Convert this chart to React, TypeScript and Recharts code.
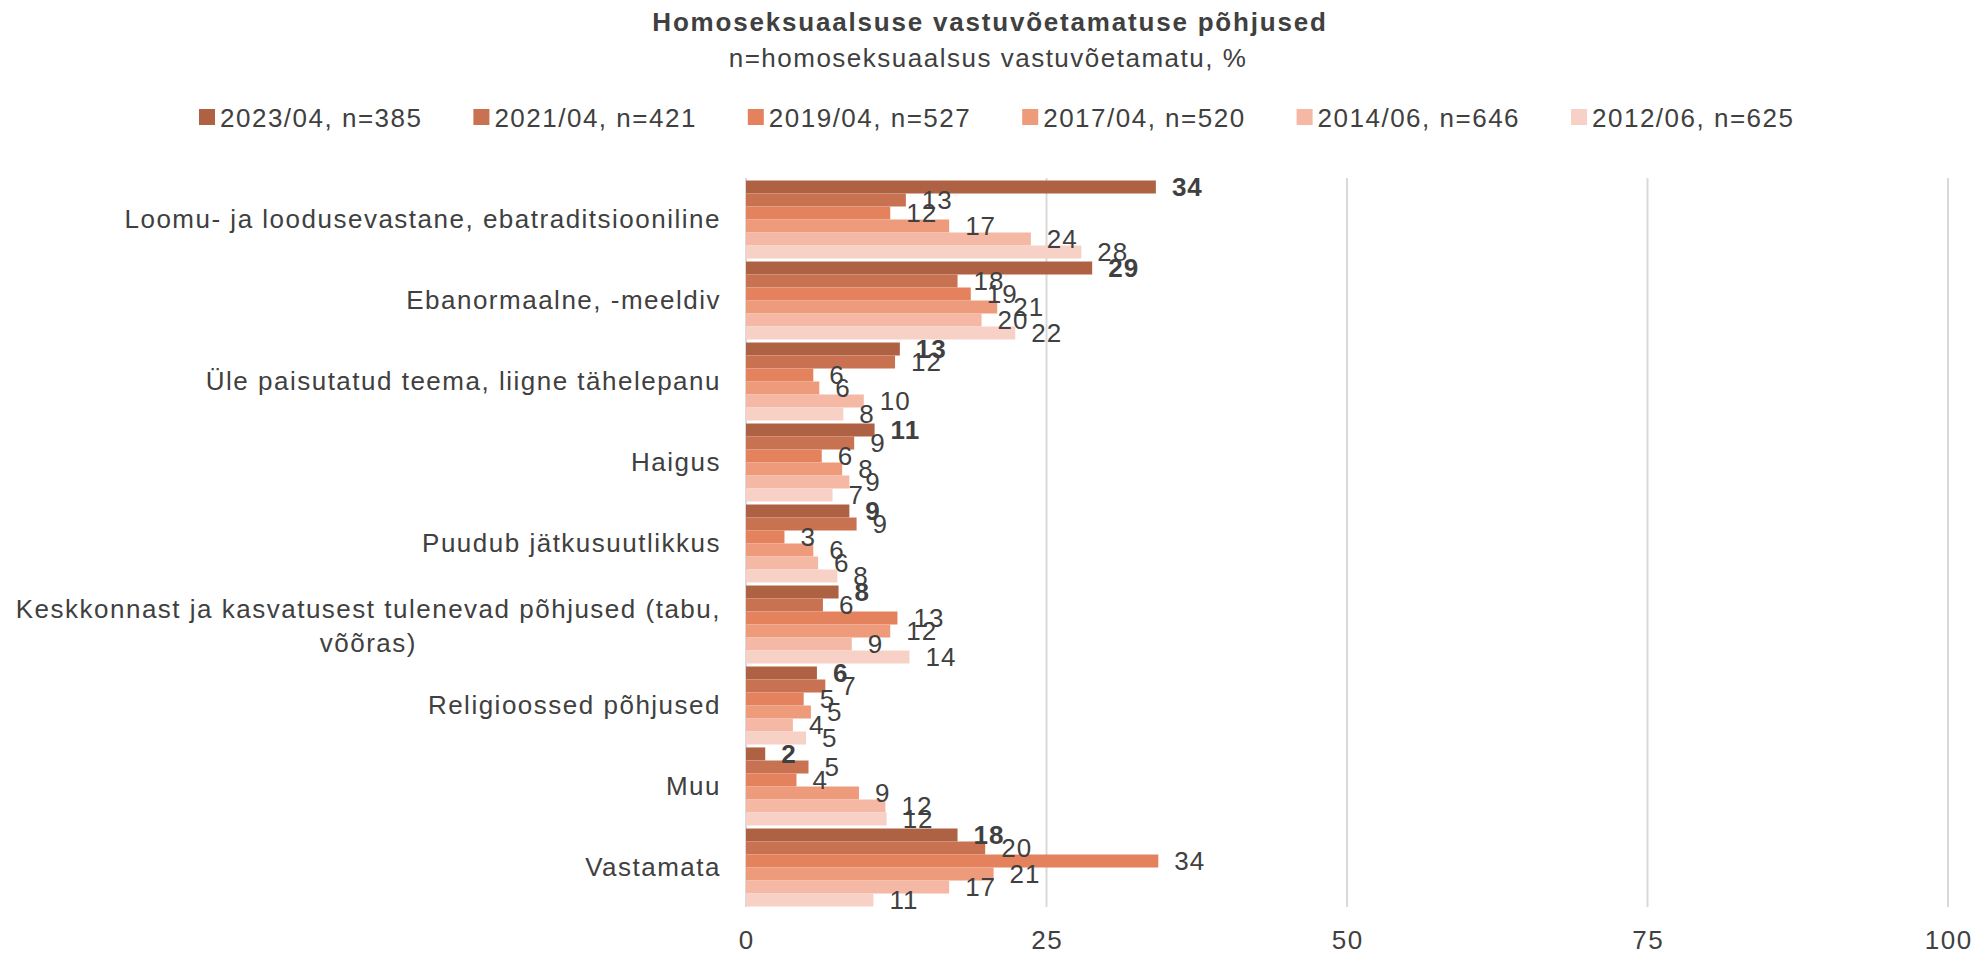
import React from 'react';
import { BarChart, Bar, XAxis, YAxis, CartesianGrid, Legend, LabelList } from 'recharts';

const categories = [
  'Loomu- ja loodusevastane, ebatraditsiooniline',
  'Ebanormaalne, -meeldiv',
  'Üle paisutatud teema, liigne tähelepanu',
  'Haigus',
  'Puudub jätkusuutlikkus',
  'Keskkonnast ja kasvatusest tulenevad põhjused (tabu, võõras)',
  'Religioossed põhjused',
  'Muu',
  'Vastamata',
];

const seriesNames = [
  '2023/04, n=385',
  '2021/04, n=421',
  '2019/04, n=527',
  '2017/04, n=520',
  '2014/06, n=646',
  '2012/06, n=625',
];

const s2023 = [34.1, 28.8, 12.8, 10.7, 8.6, 7.7, 5.9, 1.6, 17.6];
const s2021 = [13.3, 17.6, 12.4, 9.0, 9.2, 6.4, 6.6, 5.2, 19.9];
const s2019 = [12.0, 18.7, 5.6, 6.3, 3.2, 12.6, 4.8, 4.2, 34.3];
const s2017 = [16.9, 20.9, 6.1, 8.0, 5.6, 12.0, 5.4, 9.4, 20.6];
const s2014 = [23.7, 19.6, 9.8, 8.6, 6.0, 8.8, 3.9, 11.6, 16.9];
const s2012 = [27.9, 22.4, 8.1, 7.2, 7.6, 13.6, 5.0, 11.7, 10.6];

const xTicks = [0, 25, 50, 75, 100];

const title = 'Homoseksuaalsuse vastuvõetamatuse põhjused';
const subtitle = 'n=homoseksuaalsus vastuvõetamatu,  %';

const seriesKeys = ['y2023', 'y2021', 'y2019', 'y2017', 'y2014', 'y2012'];
const seriesValues = [s2023, s2021, s2019, s2017, s2014, s2012];
const colors = ['#AF6243', '#C87251', '#E4825D', '#EE9B7C', '#F4B8A4', '#F7D1C6'];

const data = categories.map((name, i) => {
  const row: any = { name };
  seriesKeys.forEach((k, j) => {
    row[k] = seriesValues[j][i];
  });
  return row;
});

const FONT = '"Liberation Sans", Arial, sans-serif';
const TEXT = '#404040';
const FS = 26;
const LS = 1.5;

let ctx: CanvasRenderingContext2D | null = null;
function measure(text: string): number {
  if (!ctx) {
    ctx = document.createElement('canvas').getContext('2d');
  }
  if (!ctx) return text.length * FS * 0.5;
  ctx.font = `${FS}px ${FONT}`;
  return ctx.measureText(text).width + LS * text.length;
}

function wrap(text: string, maxW: number): string[] {
  const words = text.split(' ');
  const lines: string[] = [];
  let cur = '';
  words.forEach((w) => {
    const test = cur ? cur + ' ' + w : w;
    if (measure(test) > maxW && cur) {
      lines.push(cur);
      cur = w;
    } else {
      cur = test;
    }
  });
  if (cur) lines.push(cur);
  return lines;
}

const CategoryTick = (props: any) => {
  const { x, y, payload } = props;
  const lines = wrap(String(payload.value), 730);
  const lh = 34;
  const common = {
    fill: TEXT,
    fontSize: FS,
    fontFamily: FONT,
    letterSpacing: LS,
  };
  if (lines.length === 1) {
    return (
      <text x={x} y={y + 9.3} textAnchor="end" {...common}>
        {lines[0]}
      </text>
    );
  }
  const maxW = Math.max(...lines.map((l) => measure(l)));
  const cx = x - maxW / 2;
  const y0 = y + 2 - ((lines.length - 1) * lh) / 2;
  return (
    <g>
      {lines.map((l, i) => (
        <text key={i} x={cx} y={y0 + i * lh + 9.3} textAnchor="middle" {...common}>
          {l}
        </text>
      ))}
    </g>
  );
};

const ValueTick = (props: any) => {
  const { x, payload } = props;
  return (
    <text x={x + 0.75} y={949} textAnchor="middle" fill={TEXT} fontSize={FS} fontFamily={FONT} letterSpacing={LS}>
      {payload.value}
    </text>
  );
};

const makeLabel = (bold: boolean) => (props: any) => {
  const vb = props.viewBox || props;
  const x = vb.x ?? props.x;
  const y = vb.y ?? props.y;
  const w = vb.width ?? props.width;
  const h = vb.height ?? props.height;
  const v = props.value;
  if (v === undefined || v === null) return null;
  return (
    <text
      x={x + w + 16}
      y={y + h / 2 + 9.3}
      fill={TEXT}
      fontSize={FS}
      fontFamily={FONT}
      fontWeight={bold ? 'bold' : 'normal'}
      letterSpacing={1}
    >
      {Math.round(Number(v))}
    </text>
  );
};

const renderLegend = (props: any) => {
  const payload = (props.payload || []).slice();
  payload.sort(
    (a: any, b: any) => seriesNames.indexOf(String(a.value)) - seriesNames.indexOf(String(b.value))
  );
  return (
    <svg width={1977} height={140} style={{ display: 'block' }}>
      {payload.map((p: any, i: number) => {
        const x = 199 + i * 274.4;
        return (
          <g key={i}>
            <rect x={x} y={109} width={16} height={16} fill={p.color} />
            <text x={x + 21} y={127} fill={TEXT} fontSize={FS} fontFamily={FONT} letterSpacing={LS}>
              {p.value}
            </text>
          </g>
        );
      })}
    </svg>
  );
};

export default function App() {
  return (
    <div style={{ position: 'absolute', left: 0, top: 0, width: 1977, height: 955, background: '#fff' }}>
      <svg
        width={1977}
        height={100}
        style={{ position: 'absolute', left: 0, top: 0, pointerEvents: 'none' }}
      >
        <text x={990} y={31} textAnchor="middle" fill={TEXT} fontSize={FS} fontWeight="bold" fontFamily={FONT} letterSpacing={1.8}>
          {title}
        </text>
        <text x={988} y={67} textAnchor="middle" fill={TEXT} fontSize={FS} fontFamily={FONT} letterSpacing={LS}>
          {subtitle}
        </text>
      </svg>
      <BarChart
        width={1977}
        height={955}
        data={data}
        layout="vertical"
        margin={{ top: 178, right: 29, bottom: 8, left: 0 }}
        barCategoryGap="3%"
        barGap={0}
      >
        <CartesianGrid horizontal={false} vertical={true} stroke="#D9D9D9" strokeWidth={2} />
        <XAxis
          type="number"
          domain={[0, 100]}
          ticks={xTicks}
          axisLine={false}
          tickLine={false}
          height={40}
          tick={<ValueTick />}
          interval={0}
        />
        <YAxis
          type="category"
          dataKey="name"
          width={746}
          axisLine={false}
          tickLine={false}
          tickMargin={19}
          tick={<CategoryTick />}
          interval={0}
        />
        <Legend
          layout="horizontal"
          verticalAlign="middle"
          align="center"
          content={renderLegend}
          wrapperStyle={{ position: 'absolute', top: 0, left: 0, width: 1977, height: 140 }}
        />
        {seriesKeys.map((k, j) => (
          <Bar key={k} dataKey={k} name={seriesNames[j]} fill={colors[j]} isAnimationActive={false}>
            <LabelList dataKey={k} content={makeLabel(j === 0)} />
          </Bar>
        ))}
      </BarChart>
    </div>
  );
}
